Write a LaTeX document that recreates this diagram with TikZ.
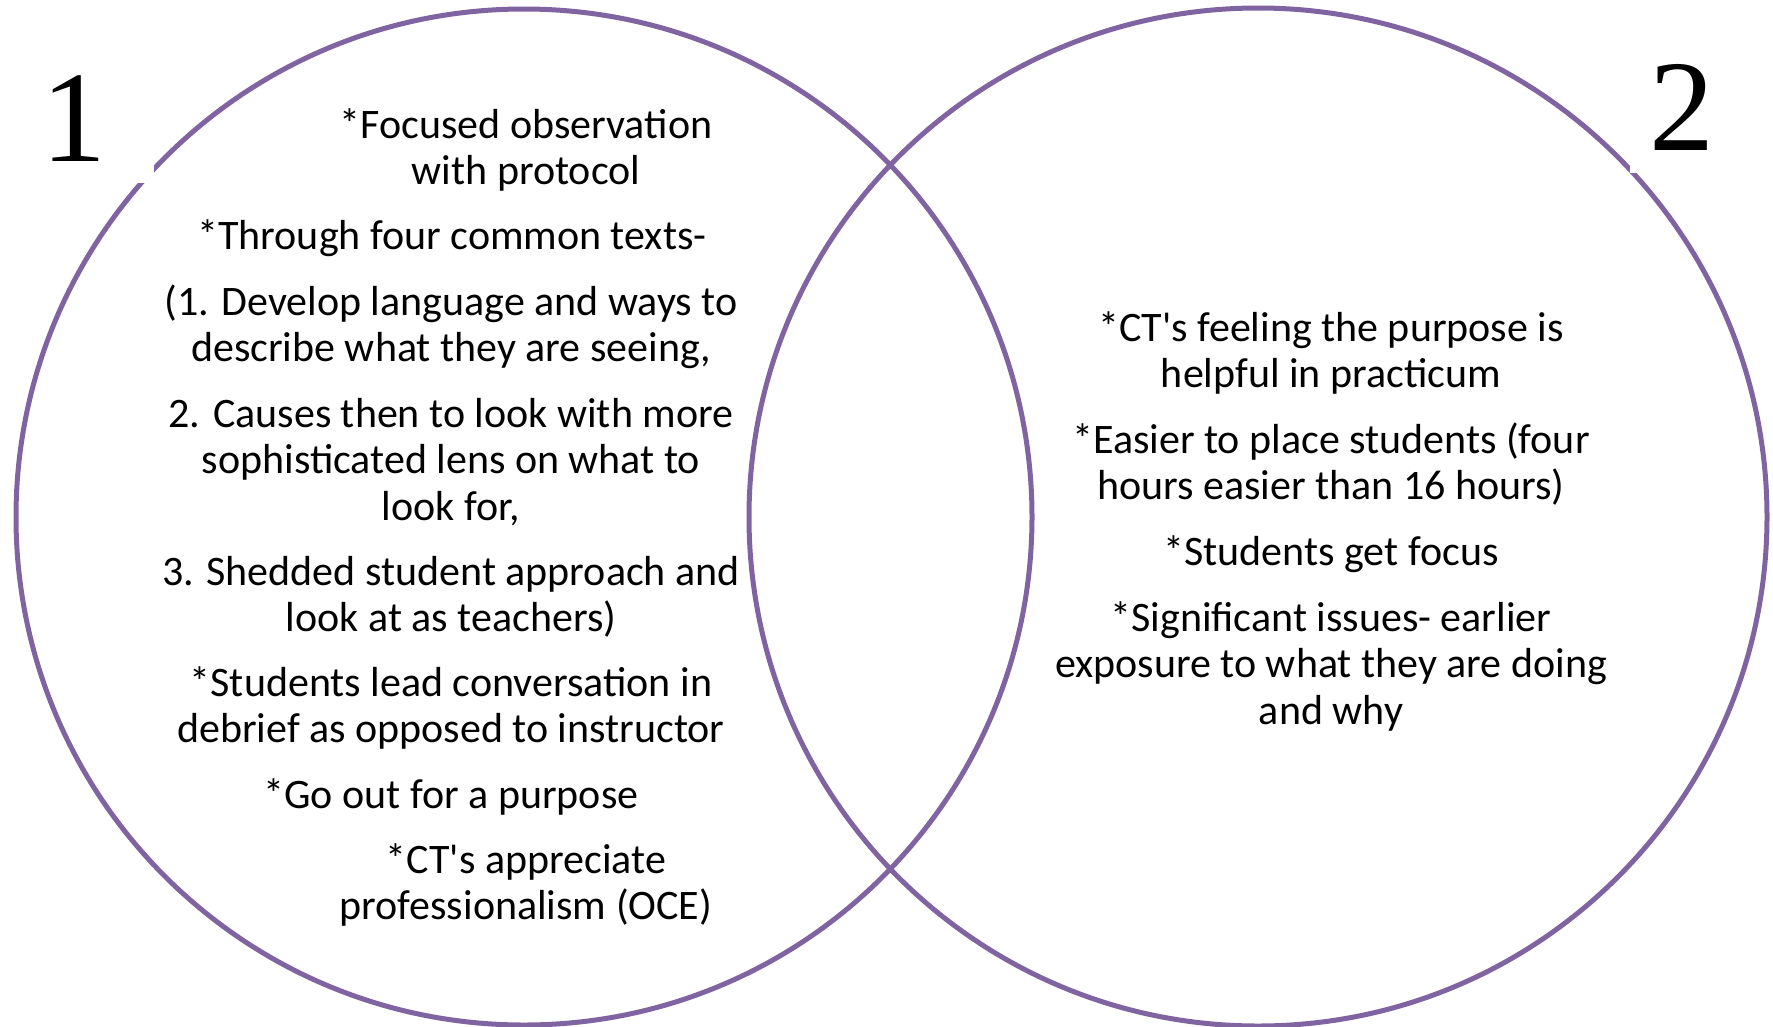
\documentclass[tikz,border=0pt]{standalone}
\usepackage{fontspec}
\setmainfont{Carlito}[Ligatures=TeXOff]
\newfontfamily\numfont{Liberation Serif}
\definecolor{vennpurple}{HTML}{8064A2}
\tikzset{
  ring/.style={draw=vennpurple, line width=5pt},
  txt/.style={align=center, inner sep=0pt, font=\fontsize{42}{46.5}\selectfont},
  num/.style={inner sep=0pt, font=\numfont\fontsize{130}{130}\selectfont},
  mask/.style={fill=white, draw=none}
}
\begin{document}
\begin{tikzpicture}[x=1pt, y=-1pt]
\useasboundingbox (0,0) rectangle (1773,1026);
\fill[white] (0,0) rectangle (1773,1026);
\draw[ring] (524,517) circle[radius=508];
\draw[ring] (1258,517) circle[radius=509];
\fill[mask] (20,20) rectangle (154,183);
\fill[mask] (1630,20) rectangle (1765,173);
\node[num] (n1) at (74,119) {1};
\node[num] (n2) at (1682,107) {2};
\node[txt] (p1) at (526,150) {*Focused observation\\with protocol};
\node[txt] (p2) at (452,238) {*Through four common texts-};
\node[txt] (p3) at (451,327) {(1. Develop language and ways to\\describe what they are seeing,};
\node[txt] (p4) at (451,462) {2. Causes then to look with more\\sophisticated lens on what to\\look for,};
\node[txt] (p5) at (451,597) {3. Shedded student approach and\\look at as teachers)};
\node[txt] (p6) at (451,708) {*Students lead conversation in\\debrief as opposed to instructor};
\node[txt] (p7) at (451,797) {*Go out for a purpose};
\node[txt] (p8) at (526,885) {*CT's appreciate\\professionalism (OCE)};
\node[txt] (r1) at (1331,353) {*CT's feeling the purpose is\\helpful in practicum};
\node[txt] (r2) at (1331,464) {*Easier to place students (four\\hours easier than 16 hours)};
\node[txt] (r3) at (1331,554) {*Students get focus};
\node[txt] (r4) at (1331,666) {*Significant issues- earlier\\exposure to what they are doing\\and why};
\end{tikzpicture}
\end{document}
